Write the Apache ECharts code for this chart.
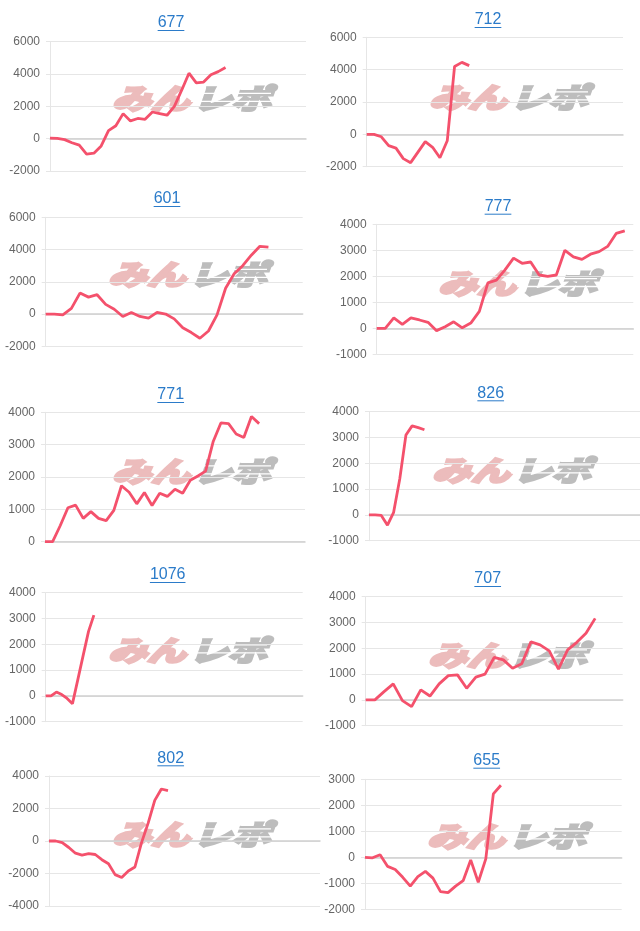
<!DOCTYPE html>
<html><head><meta charset="utf-8">
<script src="https://cdn.jsdelivr.net/npm/echarts@6/dist/echarts.min.js"></script>
<style>html,body{margin:0;padding:0;background:#fff}#c{width:640px;height:931px}</style>
</head><body><div id="c"></div>
<script>
// ---- data ----
const titles = ['677','712','601','777','771','826','1076','707','802','655'];
const yMin  = [-2000,-2000,-2000,-1000,0,-1000,-1000,-1000,-4000,-2000];
const yMax  = [6000,6000,6000,4000,4000,4000,4000,4000,4000,3000];
const yStep = [2000,2000,2000,1000,1000,1000,1000,1000,2000,1000];
const xCount = [36,36,31,31,35,45,49,29,42,35];
const s677 = [40,20,-60,-250,-400,-950,-900,-450,500,800,1550,1100,1250,1200,1650,1550,1450,2000,3000,4050,3450,3500,3950,4150,4400];
const s712 = [0,0,-150,-700,-850,-1500,-1750,-1100,-450,-800,-1450,-400,4200,4450,4250];
const s601 = [0,0,-50,350,1300,1050,1200,600,300,-150,100,-150,-250,100,0,-300,-850,-1150,-1500,-1050,-50,1600,2500,3000,3650,4200,4150];
const s777 = [0,0,400,150,400,320,230,-90,60,250,20,200,650,1750,1850,2250,2700,2500,2550,2050,2000,2050,3000,2750,2650,2850,2950,3150,3650,3750];
const s771 = [0,0,500,1050,1130,720,930,720,650,970,1730,1530,1170,1520,1120,1500,1400,1620,1500,1900,2030,2180,3100,3670,3650,3330,3220,3870,3650];
const s826 = [0,0,-20,-400,100,1400,3100,3450,3380,3300];
const s1076 = [0,0,150,50,-100,-300,630,1570,2500,3130];
const s707 = [0,0,320,620,-30,-260,390,150,620,940,970,450,880,1000,1650,1550,1230,1400,2250,2130,1900,1190,1940,2230,2580,3160];
const s802 = [0,0,-100,-400,-750,-870,-780,-830,-1150,-1400,-2070,-2250,-1850,-1600,-100,1100,2500,3200,3100];
const s655 = [0,-20,100,-350,-470,-770,-1110,-740,-540,-800,-1320,-1360,-1110,-900,-100,-960,-60,2440,2770];
const seriesData = [s677,s712,s601,s777,s771,s826,s1076,s707,s802,s655];

// ---- layout ----
const gridBox = [ // left, top, width, height
  [50,41.7,256,129.3],[366.7,37.3,256.3,129.4],
  [45.7,217.3,257,129],[376.7,224.3,256.6,130],
  [45,412.3,260,129.4],[369,411.7,271,129],
  [45.7,592.7,257,129],[365.7,596.7,257,129],
  [49,776,271,130],[365,779.3,256.7,130]
];
const titlePos = [[171,23],[488,20],[167,199],[498,206.7],[170.7,395],[490.7,393.3],[167.7,575],[487.7,579],[170.7,758.3],[486.7,760.7]];
const markPos = [[189,98.5],[506,97],[185,274.5],[515,283.7],[189,471],[509,470],[185,650],[505,655],[189,834],[504,836]];

const FONT = '"Liberation Sans", Arial, Helvetica, sans-serif';
const LINE = '#f4516c';
const chart = echarts.init(document.getElementById('c'), null, {renderer:'canvas'});
const cv = document.createElement('canvas').getContext('2d');
cv.font = '16px ' + FONT;

const grids=[], xAxes=[], yAxes=[], series=[], graphics=[];
for (let i=0;i<10;i++){
  const g = gridBox[i];
  grids.push({left:g[0], top:g[1], width:g[2], height:g[3], containLabel:false});
  const cats = []; for (let k=0;k<xCount[i];k++) cats.push(String(k));
  xAxes.push({type:'category', gridIndex:i, data:cats, boundaryGap:false,
    axisLabel:{show:false}, axisTick:{show:false},
    axisLine:{show:true, onZero:true, lineStyle:{color:'#cfcfcf', width:1.5}},
    splitLine:{show:false}});
  yAxes.push({type:'value', gridIndex:i, min:yMin[i], max:yMax[i], interval:yStep[i],
    axisLine:{show:true, lineStyle:{color:'#e6e6e6'}},
    axisTick:{show:true, length:4, lineStyle:{color:'#e6e6e6'}},
    splitLine:{show:true, lineStyle:{color:'#e6e6e6'}},
    axisLabel:{fontSize:12, color:'#666', fontFamily:FONT, margin:10, formatter:v=>String(v)}});
  series.push({type:'line', xAxisIndex:i, yAxisIndex:i, data:seriesData[i],
    showSymbol:false, symbol:'none', z:5,
    lineStyle:{color:LINE, width:2.8}, itemStyle:{color:LINE}});
  // title
  const t = titles[i], tp = titlePos[i];
  const w = cv.measureText(t).width;
  graphics.push({type:'text', x:tp[0], y:tp[1], style:{text:t, font:'16px '+FONT, fill:'#2b7bc9', align:'center', verticalAlign:'middle'}});
  graphics.push({type:'line', shape:{x1:tp[0]-w/2, y1:tp[1]+7.5, x2:tp[0]+w/2, y2:tp[1]+7.5}, style:{stroke:'#2b7bc9', lineWidth:1}});
  // watermark
  const m = markPos[i];
  const wf = 'italic bold 39px "Noto Sans CJK JP"';
  graphics.push({type:'group', x:m[0], y:m[1], z:1, scaleY:0.72, children:[
    {type:'text', x:1, y:0, style:{text:'みん', font:wf, fill:'#ecbcbc', stroke:'#ecbcbc', lineWidth:4, align:'right', verticalAlign:'middle'}},
    {type:'text', x:4, y:0, style:{text:'レポ', font:wf, fill:'#bdbdbd', stroke:'#bdbdbd', lineWidth:4, align:'left', verticalAlign:'middle'}},
    {type:'rect', shape:{x:2, y:-8, width:80, height:1.8}, style:{fill:'#fff'}},
    {type:'rect', shape:{x:2, y:3, width:80, height:1.8}, style:{fill:'#fff'}}
  ]});
}

chart.setOption({animation:false, backgroundColor:'#fff', grid:grids, xAxis:xAxes, yAxis:yAxes, series:series, graphic:graphics});
</script></body></html>
